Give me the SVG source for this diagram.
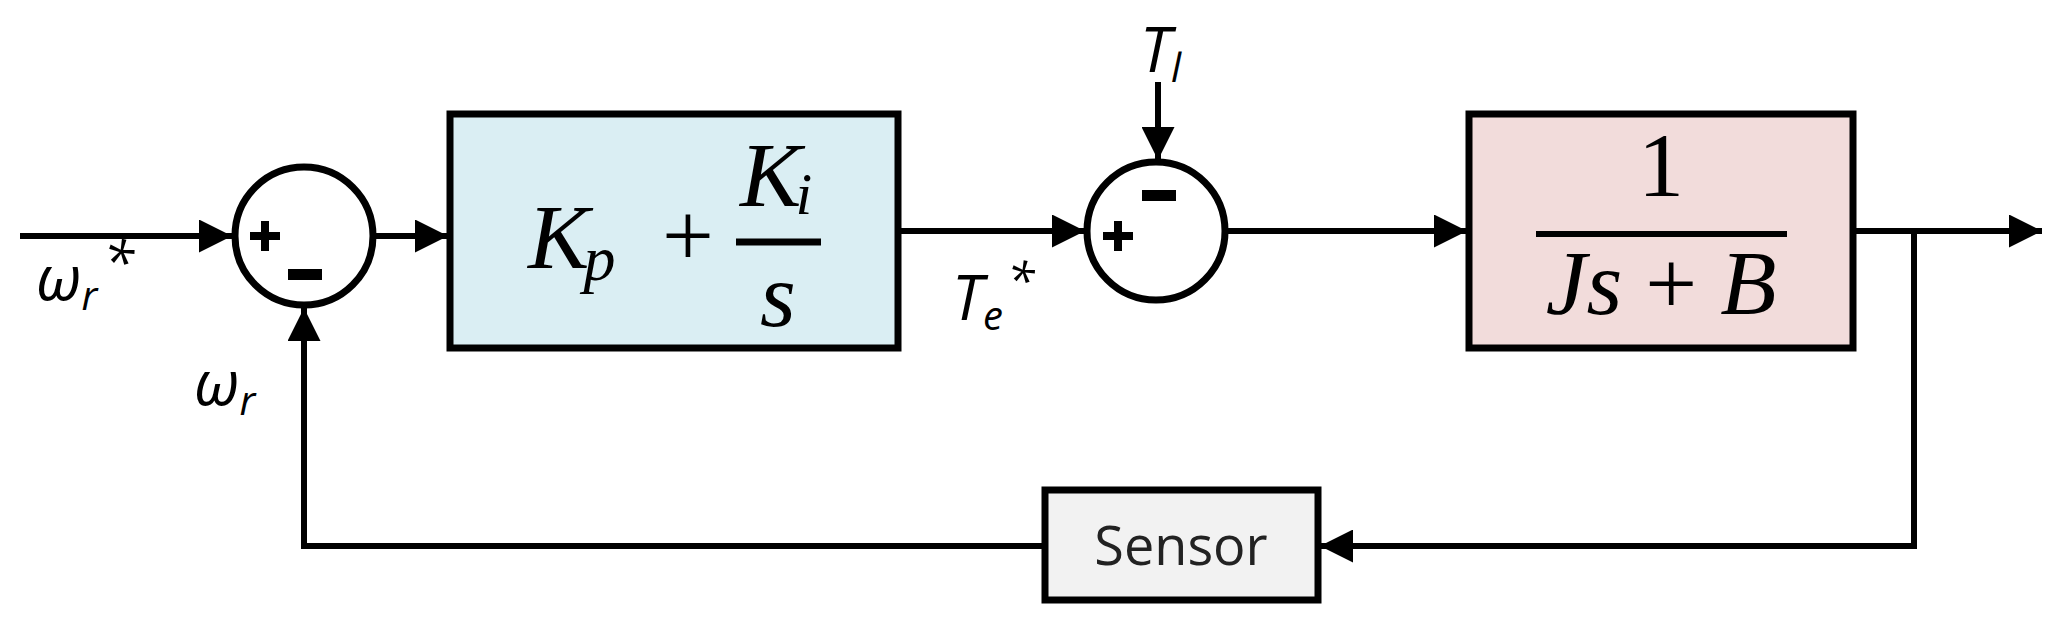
<svg xmlns="http://www.w3.org/2000/svg" width="2057" height="628" viewBox="0 0 2057 628">
<style>
.ln{stroke:#000;stroke-width:6;fill:none}
.bx{stroke:#000;stroke-width:7}
.m{font-family:"Liberation Serif",serif;font-style:italic;fill:#000}
.u{font-family:"Liberation Serif",serif;fill:#000}
.s{font-family:"Open Sans","Liberation Sans",sans-serif;fill:#222}
.l{font-family:"Open Sans","Liberation Sans",sans-serif;font-style:italic;fill:#000}
</style>
<defs><marker id="a" viewBox="0 0 10 10" refX="10" refY="5" markerWidth="5.5" markerHeight="5.5" orient="auto" markerUnits="strokeWidth"><path d="M0,0L10,5L0,10z" fill="#000"/></marker></defs>
<rect width="2057" height="628" fill="#fff"/>
<g id="connectors">
<path class="ln" d="M20,236H232" marker-end="url(#a)"/>
<path class="ln" d="M374,236H448" marker-end="url(#a)"/>
<path class="ln" d="M899,231H1085" marker-end="url(#a)"/>
<path class="ln" d="M1158,82V160" marker-end="url(#a)"/>
<path class="ln" d="M1227,231H1467" marker-end="url(#a)"/>
<path class="ln" d="M1855,231H2042" marker-end="url(#a)"/>
<path class="ln" d="M1914,231V546H1320" marker-end="url(#a)"/>
<path class="ln" d="M1044,546H304V308" marker-end="url(#a)"/>
</g>
<g id="sum1"><circle cx="304" cy="236" r="69" fill="#fff" class="bx"/>
<path d="M250,236H280M265,221V251" stroke="#000" stroke-width="8"/>
<rect x="288" y="269" width="34" height="11" fill="#000"/></g>
<g id="sum2"><circle cx="1156" cy="231" r="69" fill="#fff" class="bx"/>
<path d="M1103,236H1133M1118,221V251" stroke="#000" stroke-width="8"/>
<rect x="1142" y="190" width="34" height="11" fill="#000"/></g>
<g id="pi"><rect x="450" y="114" width="448" height="234" fill="#DAEEF3" class="bx"/>
<text x="528" y="268" class="m" font-size="92">K<tspan font-size="64" dx="-6" dy="12">p</tspan></text>
<text x="688" y="266" class="u" font-size="92" text-anchor="middle">+</text>
<line x1="736" y1="242" x2="821" y2="242" stroke="#000" stroke-width="7"/>
<text x="740" y="206" class="m" font-size="92">K<tspan font-size="60" dx="-6" dy="8">i</tspan></text>
<text x="778" y="326" class="m" font-size="92" text-anchor="middle">s</text></g>
<g id="plant"><rect x="1469" y="114" width="384" height="234" fill="#F2DCDB" class="bx"/>
<text x="1661" y="196" class="u" font-size="92" text-anchor="middle">1</text>
<line x1="1536" y1="234" x2="1787" y2="234" stroke="#000" stroke-width="6"/>
<text x="1661" y="314" class="m" font-size="92" text-anchor="middle">Js <tspan font-style="normal">+</tspan> B</text></g>
<g id="sensor"><rect x="1045" y="490" width="273" height="110" fill="#F2F2F2" class="bx"/>
<text x="1181" y="565" class="s" font-size="54" text-anchor="middle">Sensor</text></g>
<g id="labels">
<text x="36" y="300" class="l" font-size="62">ω<tspan font-size="40" dy="10">r</tspan><tspan font-size="56" dx="6" dy="-28">*</tspan></text>
<text x="194" y="405" class="l" font-size="62">ω<tspan font-size="40" dy="10">r</tspan></text>
<text x="952" y="320" class="l" font-size="62">T<tspan font-size="40" dy="10">e</tspan><tspan font-size="50" dx="4" dy="-32">*</tspan></text>
<text x="1140" y="72" class="l" font-size="62">T<tspan font-size="40" dy="10">l</tspan></text>
</g>
</svg>
